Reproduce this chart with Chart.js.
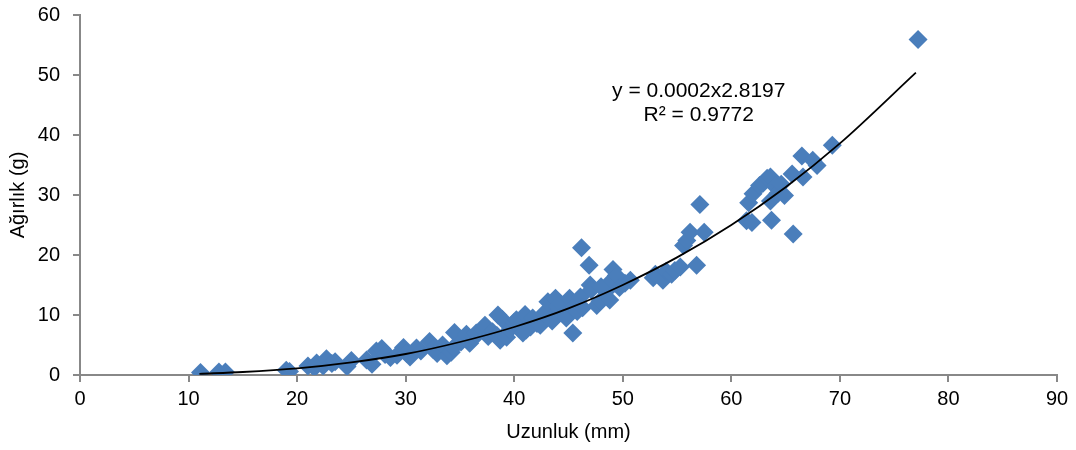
<!DOCTYPE html>
<html lang="tr">
<head>
<meta charset="utf-8">
<title>Uzunluk - Ağırlık ilişkisi</title>
<script src="https://cdn.jsdelivr.net/npm/chart.js@4/dist/chart.umd.min.js"></script>
<style>
  html, body { margin: 0; padding: 0; background: #fff; }
  #grafik { display: block; }
</style>
</head>
<body>
<canvas id="grafik" width="1076" height="450"></canvas>
<script>
// ölçülen bireyler: uzunluk (mm) ve ağırlık (g), aynı sırada
const uzunluk = [
  11.1, 12.8, 13.4, 19.0, 19.3, 21.0, 21.6, 21.8, 22.4, 22.7,
  23.2, 23.5, 24.6, 25.0, 26.4, 26.9, 27.3, 27.8, 28.1, 28.6,
  29.2, 29.8, 30.1, 30.4, 31.0, 31.4, 32.2, 32.5, 32.9, 33.4,
  33.8, 34.2, 34.4, 34.5, 35.1, 35.6, 35.9, 36.3, 36.5, 37.1,
  37.3, 37.6, 38.0, 38.4, 38.5, 38.7, 38.9, 39.3, 39.6, 40.0,
  40.2, 40.5, 40.8, 41.0, 41.1, 41.5, 41.7, 42.1, 42.4, 42.7,
  43.0, 43.1, 43.5, 43.8, 44.0, 44.2, 44.5, 44.8, 45.1, 45.4,
  45.4, 45.8, 46.1, 46.2, 46.3, 46.9, 47.0, 47.1, 47.6, 47.9,
  48.0, 48.5, 48.8, 49.0, 49.1, 49.4, 49.7, 50.2, 50.7, 52.8,
  53.0, 53.7, 54.0, 54.5, 54.8, 55.3, 55.6, 55.9, 56.2, 56.8,
  57.1, 57.5, 61.4, 61.6, 61.9, 62.0, 62.6, 62.9, 63.3, 63.6,
  63.6, 63.7, 64.0, 64.3, 64.6, 64.9, 65.6, 65.7, 66.5, 66.6,
  67.5, 67.9, 69.3, 77.2
];
const agirlik = [
  0.4, 0.5, 0.5, 0.8, 0.6, 1.5, 1.2, 2.0, 1.5, 2.7,
  1.9, 2.2, 1.4, 2.4, 2.5, 1.8, 4.0, 4.4, 3.4, 2.9,
  3.3, 4.6, 3.6, 3.0, 4.5, 4.0, 5.6, 4.3, 3.6, 5.0,
  3.2, 3.8, 4.6, 7.1, 5.5, 6.8, 5.3, 6.2, 7.0, 7.5,
  8.3, 6.4, 7.2, 6.6, 10.0, 5.8, 9.3, 6.3, 7.6, 8.8,
  9.2, 8.3, 7.0, 10.1, 7.5, 8.0, 9.5, 8.6, 8.3, 10.2,
  10.6, 12.2, 9.0, 12.8, 11.4, 12.0, 10.2, 9.5, 12.8, 7.0,
  11.2, 10.6, 13.0, 21.2, 11.2, 18.3, 15.0, 14.2, 11.6, 12.3,
  14.7, 14.0, 12.5, 15.8, 17.6, 16.6, 14.6, 15.3, 15.8, 16.2,
  16.8, 15.8, 17.3, 16.8, 17.4, 18.0, 21.6, 22.4, 23.8, 18.3,
  28.4, 23.8, 25.7, 28.7, 25.4, 30.2, 31.6, 31.9, 32.8, 33.0,
  29.0, 25.8, 31.5, 30.3, 31.8, 29.9, 33.5, 23.5, 36.5, 33.0,
  35.8, 34.9, 38.3, 55.9
];

// üssel eğilim çizgisi (y = a·x^b), eğri üzerinden okunan noktalar
const egilimX = [11, 15, 20, 25, 30, 35, 40, 45, 50, 55, 60, 65, 70, 77];
const egilimY = [0.2, 0.5, 1.1, 2.1, 3.5, 5.5, 8.0, 11.1, 15.0, 19.6, 25.0, 31.3, 38.6, 50.4];

const denklemSatirlari = ["y = 0.0002x2.8197", "R² = 0.9772"];

const FONT = '"Liberation Sans", Arial, sans-serif';
const MAVI = "#4A7EBB";
const EKSEN = "#888888";

// denklem ve R² metni, grafik verisi koordinatına bağlı
const denklemYazisi = {
  id: "denklemYazisi",
  afterDatasetsDraw(chart) {
    const { ctx, scales: { x, y } } = chart;
    const cx = x.getPixelForValue(57.0);
    const cy = y.getPixelForValue(47.3);
    ctx.save();
    ctx.font = "21px " + FONT;
    ctx.fillStyle = "#000";
    ctx.textAlign = "center";
    ctx.textBaseline = "middle";
    denklemSatirlari.forEach((satir, i) => ctx.fillText(satir, cx, cy + i * 24));
    ctx.restore();
  },
};

new Chart(document.getElementById("grafik").getContext("2d"), {
  type: "scatter",
  data: {
    datasets: [
      {
        type: "line",
        data: egilimX.map((v, i) => ({ x: v, y: egilimY[i] })),
        borderColor: "#000",
        borderWidth: 1.8,
        pointRadius: 0,
        fill: false,
        cubicInterpolationMode: "monotone",
        order: 0,
      },
      {
        data: uzunluk.map((v, i) => ({ x: v, y: agirlik[i] })),
        pointStyle: "rectRot",
        pointRadius: 9.5,
        backgroundColor: MAVI,
        borderColor: MAVI,
        borderWidth: 0,
        order: 1,
      },
    ],
  },
  options: {
    responsive: false,
    animation: false,
    events: [],
    layout: { padding: { top: 15, right: 19, left: 0, bottom: 0 } },
    plugins: { legend: { display: false }, tooltip: { enabled: false } },
    scales: {
      x: {
        type: "linear",
        min: 0,
        max: 90,
        ticks: { stepSize: 10, color: "#000", padding: 5, font: { family: FONT, size: 20 } },
        grid: { drawOnChartArea: false, drawTicks: true, tickLength: 7, color: EKSEN, lineWidth: 2 },
        border: { color: EKSEN, width: 2 },
        title: {
          display: true,
          text: "Uzunluk (mm)",
          color: "#000",
          font: { family: FONT, size: 20 },
          padding: { top: 0, bottom: 6 },
        },
        afterFit(scale) { scale.height = 75; },
      },
      y: {
        type: "linear",
        min: 0,
        max: 60,
        ticks: { stepSize: 10, color: "#000", padding: 13, font: { family: FONT, size: 20 } },
        grid: { drawOnChartArea: false, drawTicks: true, tickLength: 7, color: EKSEN, lineWidth: 2 },
        border: { color: EKSEN, width: 2 },
        title: {
          display: true,
          text: "Ağırlık (g)",
          color: "#000",
          font: { family: FONT, size: 20 },
          padding: { top: 6, bottom: 0 },
        },
        // etiket boşluğu üst/alt dolguyu büyütmesin
        afterFit(scale) {
          scale.width = 80;
          scale.paddingTop = 0;
          scale.paddingBottom = 0;
        },
      },
    },
  },
  plugins: [denklemYazisi],
});
</script>
</body>
</html>
